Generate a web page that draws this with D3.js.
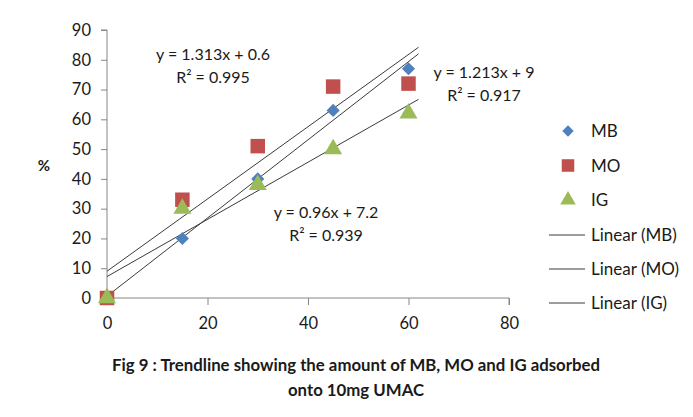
<!DOCTYPE html>
<html>
<head>
<meta charset="utf-8">
<script src="https://cdn.jsdelivr.net/npm/d3@7"></script>
<style>
  body { margin: 0; background: #fff; }
  text { font-family: Lato, "Open Sans", sans-serif; fill: #1a1a1a; }
</style>
</head>
<body>
<div id="chart"></div>
<script>
// DATA ####################################################
const xValues = [0, 15, 30, 45, 60];
const mbValues = [0, 20, 40, 63, 77];
const moValues = [0, 33, 51, 71, 72];
const igValues = [0, 30, 38, 50, 62];

const seriesNames = ["MB", "MO", "IG"];
const seriesColors = ["#4F81BD", "#C0504D", "#9BBB59"];
// trendline fits as printed on the chart
const slopes = [1.313, 1.213, 0.96];
const intercepts = [0.6, 9, 7.2];
const r2Values = [0.995, 0.917, 0.939];
const trendEndX = 62;

const xTicks = [0, 20, 40, 60, 80];
const yTicks = [0, 10, 20, 30, 40, 50, 60, 70, 80, 90];

// CONSTANTS ###############################################
const width = 693, height = 417;

const xScale = d3.scaleLinear().domain([0, 80]).range([107, 509]);
const yScale = d3.scaleLinear().domain([0, 90]).range([298, 30]);

const svg = d3.select("#chart").append("svg")
    .attr("width", width)
    .attr("height", height);

// AXES ====================================================
const xAxis = svg.append("g")
    .attr("transform", `translate(0,${yScale(0)})`)
    .call(d3.axisBottom(xScale).tickValues(xTicks).tickSize(7).tickSizeOuter(7).tickPadding(12));

const yAxis = svg.append("g")
    .attr("transform", `translate(${xScale(0)},0)`)
    .call(d3.axisLeft(yScale).tickValues(yTicks).tickSize(6).tickSizeOuter(6).tickPadding(10));

[xAxis, yAxis].forEach(ax => {
  ax.selectAll("path, line").attr("stroke", "#868686");
  ax.selectAll("text")
    .style("font-size", "16.5px")
    .style("fill", "#1a1a1a")
    .style("font-family", "Lato, sans-serif");
});
yAxis.select("path").attr("d", `M-6,${yScale(90)}H0V${yScale(0)}`);
xAxis.select("path").attr("d", `M${xScale(0)},0H${xScale(80)}V7`);

// y-axis title
svg.append("text")
    .attr("x", 44)
    .attr("y", 171)
    .attr("text-anchor", "middle")
    .style("font-size", "15px")
    .style("font-weight", "bold")
    .text("%");

// TRENDLINES ==============================================
seriesNames.forEach((name, i) => {
  svg.append("line")
      .attr("x1", xScale(0))
      .attr("y1", yScale(intercepts[i]))
      .attr("x2", xScale(trendEndX))
      .attr("y2", yScale(slopes[i] * trendEndX + intercepts[i]))
      .attr("stroke", "#3a3a3a")
      .attr("stroke-width", 1);
});

// MARKERS =================================================
const symbols = [d3.symbolDiamond2, d3.symbolSquare, d3.symbolTriangle];
const symbolSizes = [110, 210, 140];
const allValues = [mbValues, moValues, igValues];

seriesNames.forEach((name, i) => {
  svg.append("g").selectAll("path")
    .data(xValues.map((x, j) => [x, allValues[i][j]]))
    .join("path")
      .attr("transform", d => `translate(${xScale(d[0])},${yScale(d[1])})`)
      .attr("d", d3.symbol().type(symbols[i]).size(symbolSizes[i]))
      .attr("fill", seriesColors[i]);
});

// EQUATION LABELS =========================================
const labelPos = [[213, 60], [484, 78], [326, 218]];
seriesNames.forEach((name, i) => {
  const g = svg.append("g").style("font-size", "16px");
  g.append("text")
      .attr("x", labelPos[i][0])
      .attr("y", labelPos[i][1])
      .attr("text-anchor", "middle")
      .text(`y = ${slopes[i]}x + ${intercepts[i]}`);
  g.append("text")
      .attr("x", labelPos[i][0])
      .attr("y", labelPos[i][1] + 23)
      .attr("text-anchor", "middle")
      .text(`R² = ${r2Values[i]}`);
});

// LEGEND ==================================================
const legend = svg.append("g").style("font-size", "17px");
seriesNames.forEach((name, i) => {
  const y = 131 + i * 34.5;
  legend.append("path")
      .attr("transform", `translate(568,${y})`)
      .attr("d", d3.symbol().type(symbols[i]).size(symbolSizes[i] * 0.75))
      .attr("fill", seriesColors[i]);
  legend.append("text")
      .attr("x", 591)
      .attr("y", y + 6)
      .text(name);
});
seriesNames.forEach((name, i) => {
  const y = 235 + i * 34;
  legend.append("line")
      .attr("x1", 549).attr("x2", 585)
      .attr("y1", y).attr("y2", y)
      .attr("stroke", "#3a3a3a");
  legend.append("text")
      .attr("x", 591)
      .attr("y", y + 6)
      .text(`Linear (${name})`);
});

// CAPTION =================================================
const caption = svg.append("g")
    .style("font-size", "16.8px")
    .style("font-weight", "bold");
caption.append("text")
    .attr("x", 356).attr("y", 371)
    .attr("text-anchor", "middle")
    .text("Fig 9 : Trendline showing the amount of MB, MO and IG adsorbed");
caption.append("text")
    .attr("x", 356).attr("y", 396)
    .attr("text-anchor", "middle")
    .text("onto 10mg UMAC");
</script>
</body>
</html>
